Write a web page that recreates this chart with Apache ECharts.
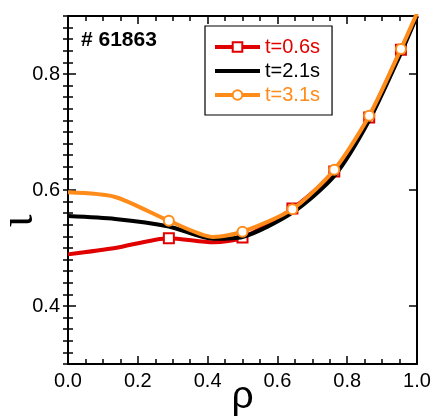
<!DOCTYPE html>
<html><head><meta charset="utf-8">
<script src="https://cdn.jsdelivr.net/npm/echarts@6/dist/echarts.min.js"></script>
<style>html,body{margin:0;padding:0;background:#fff}#c{width:434px;height:416px}</style>
</head><body><div id="c"></div>
<script>
// ---- data ----
const rho = [0, 0.135, 0.289, 0.417, 0.5, 0.643, 0.763, 0.863, 0.954, 1.0];
const iota_t06 = [0.489, 0.500, 0.517, 0.510, 0.518, 0.568, 0.632, 0.725, 0.842, 0.900];
const iota_t21 = [0.555, 0.550, 0.537, 0.516, 0.519, 0.561, 0.624, 0.720, 0.836, 0.900];
const iota_t31 = [0.596, 0.588, 0.547, 0.519, 0.528, 0.567, 0.635, 0.728, 0.843, 0.905];
const markerIdx = [2, 4, 5, 6, 7, 8];
const seriesNames = ['t=0.6s', 't=2.1s', 't=3.1s'];
const yMajorTicks = [0.4, 0.6, 0.8];
const shotLabel = '# 61863';

// ---- styling ----
const colors = ['#e00000', '#000000', '#ff8c1a'];
const symbols = ['emptyRect', 'none', 'emptyCircle'];
const FONT = "'Liberation Sans', Arial, sans-serif";

function buildData(vals, sym) {
  return rho.map((r, i) => {
    const item = { value: [r, vals[i]] };
    if (sym === 'none' || markerIdx.indexOf(i) < 0) item.symbol = 'none';
    return item;
  });
}

const allVals = [iota_t06, iota_t21, iota_t31];
const series = allVals.map((vals, k) => ({
  name: seriesNames[k],
  type: 'line',
  xAxisIndex: 0,
  yAxisIndex: 0,
  data: buildData(vals, symbols[k]),
  symbol: symbols[k],
  symbolSize: 10,
  showSymbol: true,
  smooth: 0.25,
  clip: true,
  color: colors[k],
  lineStyle: { color: colors[k], width: 4 },
  itemStyle: { color: colors[k], borderColor: colors[k], borderWidth: 1.2 },
  emphasis: { disabled: true },
  z: 2 + k
}));

const tickStyle = { color: '#000', width: 1.5 };
const baseX = {
  type: 'value', min: 0, max: 1, interval: 0.2,
  splitLine: { show: false },
  axisLine: { show: true, onZero: false, lineStyle: { color: '#000', width: 2 } },
  axisTick: { show: true, inside: true, length: 8, lineStyle: tickStyle },
  minorTick: { show: true, splitNumber: 4, length: 5, lineStyle: tickStyle },
  minorSplitLine: { show: false }
};
const baseYMajor = {
  type: 'value', min: 0.3, max: 0.9,
  splitLine: { show: false },
  axisLine: { show: true, onZero: false, lineStyle: { color: '#000', width: 2 } },
  axisTick: { show: true, inside: true, length: 8, lineStyle: tickStyle, customValues: yMajorTicks }
};
const baseYMinor = {
  type: 'value', min: 0.3, max: 0.9, interval: 0.02,
  splitLine: { show: false },
  axisLine: { show: false },
  axisLabel: { show: false },
  axisTick: { show: true, inside: true, length: 5, lineStyle: tickStyle }
};

const chart = echarts.init(document.getElementById('c'), null, { renderer: 'canvas' });
chart.setOption({
  animation: false,
  backgroundColor: '#fff',
  title: {
    text: shotLabel, left: 81, top: 30, padding: 0,
    textStyle: { fontFamily: FONT, fontWeight: 'bold', fontSize: 21, color: '#000' }
  },
  grid: { left: 68, right: 17, top: 16, bottom: 52, containLabel: false, outerBoundsMode: 'none' },
  legend: {
    orient: 'vertical', left: 205, top: 26,
    padding: [11, 12, 10, 8], itemGap: 4,
    itemWidth: 45, itemHeight: 12,
    backgroundColor: '#fff', borderColor: '#000', borderWidth: 1.2, borderRadius: 0,
    selectedMode: false,
    lineStyle: { width: 4 },
    textStyle: { fontFamily: FONT, fontSize: 20 },
    data: seriesNames.map((n, k) => {
      const d = { name: n, textStyle: { color: colors[k] } };
      if (symbols[k] === 'none') d.itemStyle = { opacity: 0 };
      return d;
    })
  },
  xAxis: [
    Object.assign({}, baseX, {
      position: 'bottom',
      name: 'ρ', nameLocation: 'middle', nameGap: 14, nameMoveOverlap: false,
      nameTextStyle: { fontFamily: FONT, fontSize: 39, color: '#000' },
      axisLabel: { show: true, margin: 7, fontFamily: FONT, fontSize: 20, color: '#000',
        formatter: v => v.toFixed(1) }
    }),
    Object.assign({}, baseX, { position: 'top', axisLabel: { show: false } })
  ],
  yAxis: [
    Object.assign({}, baseYMajor, {
      position: 'left',
      name: 'ι', nameLocation: 'middle', nameGap: 25, nameRotate: 90, nameMoveOverlap: false,
      nameTextStyle: { fontFamily: "'Liberation Serif', 'Times New Roman', serif", fontSize: 48, color: '#000',
        padding: [0, 62, 0, 0] },
      axisLabel: { show: true, margin: 8, fontFamily: FONT, fontSize: 20, color: '#000',
        customValues: yMajorTicks, formatter: v => v.toFixed(1) }
    }),
    Object.assign({}, baseYMajor, { position: 'right', axisLabel: { show: false } }),
    Object.assign({}, baseYMinor, { position: 'left' }),
    Object.assign({}, baseYMinor, { position: 'right' })
  ],
  series: series
});
</script>
</body></html>
